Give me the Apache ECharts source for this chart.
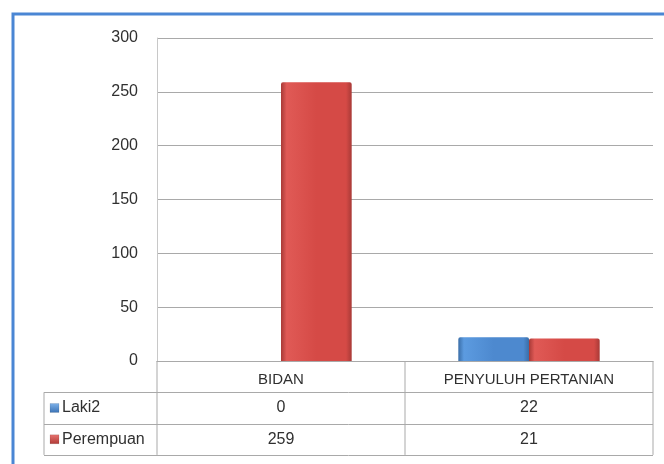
<!DOCTYPE html>
<html lang="en">
<head>
<meta charset="UTF-8">
<title>Chart</title>
<style>
    html, body { margin: 0; padding: 0; background: #fff; }
    #main { width: 664px; height: 464px; }
</style>
</head>
<body>
<div id="main"></div>
<script src="https://cdn.jsdelivr.net/npm/echarts@6/dist/echarts.min.js"></script>
<script>
var categories = ['BIDAN', 'PENYULUH PERTANIAN'];
var seriesNames = ['Laki2', 'Perempuan'];
var laki2 = [0, 22];
var perempuan = [259, 21];
var yMin = 0, yMax = 300, yStep = 50;

var FONT = '"Liberation Sans", Arial, sans-serif';
var TXT = '#303030';
var LINE = '#a9a9a9';

// layout of plot + data table
var gridLeft = 157, gridRight = 653, gridTop = 38, axisY = 361;
var tableLeft = 44, rowH = 31.3;

function barColor(dark, mid, light) {
    return new echarts.graphic.LinearGradient(0, 0, 1, 0, [
        { offset: 0, color: dark },
        { offset: 0.08, color: light },
        { offset: 0.5, color: mid },
        { offset: 0.92, color: mid },
        { offset: 1, color: dark }
    ]);
}
var colors = [
    barColor('#3a6ea8', '#4d89cf', '#5c9be0'),
    barColor('#a83a37', '#d54a46', '#e05a56')
];
var markColors = [
    new echarts.graphic.LinearGradient(0, 0, 0, 1, [{ offset: 0, color: '#7fb2ea' }, { offset: 1, color: '#3b73b5' }]),
    new echarts.graphic.LinearGradient(0, 0, 0, 1, [{ offset: 0, color: '#e87470' }, { offset: 1, color: '#b03a36' }])
];

var chart = echarts.init(document.getElementById('main'));

var option = {
    animation: false,
    backgroundColor: '#fff',
    grid: {
        left: gridLeft,
        right: 664 - gridRight,
        top: gridTop,
        bottom: 464 - axisY
    },
    xAxis: {
        type: 'category',
        data: categories,
        axisLine: { lineStyle: { color: LINE, width: 1 } },
        axisTick: { show: false },
        axisLabel: {
            margin: 11,
            color: TXT,
            fontFamily: FONT,
            fontSize: 15
        },
        splitLine: { show: false }
    },
    yAxis: {
        type: 'value',
        min: yMin,
        max: yMax,
        interval: yStep,
        axisLine: { show: true, lineStyle: { color: '#c8c8c8' } },
        axisTick: { show: false },
        axisLabel: {
            margin: 19,
            color: TXT,
            fontFamily: FONT,
            fontSize: 16
        },
        splitLine: { lineStyle: { color: LINE, width: 1 } }
    },
    series: [
        {
            name: seriesNames[0],
            type: 'bar',
            data: laki2,
            barGap: '0%',
            barCategoryGap: '43%',
            itemStyle: { color: colors[0], borderRadius: [2, 2, 0, 0] }
        },
        {
            name: seriesNames[1],
            type: 'bar',
            data: perempuan,
            itemStyle: { color: colors[1], borderRadius: [2, 2, 0, 0] }
        }
    ]
};
chart.setOption(option);

// data table under the plot, built from the same arrays
var rows = [laki2, perempuan];
var g = [];
var lineStyle = { stroke: LINE, lineWidth: 1 };
var tableBottom = axisY + rowH * 3;

// verticals
g.push({ type: 'line', shape: { x1: gridLeft, y1: axisY, x2: gridLeft, y2: tableBottom }, style: lineStyle });
g.push({ type: 'line', shape: { x1: gridRight, y1: axisY, x2: gridRight, y2: tableBottom }, style: lineStyle });
g.push({ type: 'line', shape: { x1: tableLeft, y1: axisY + rowH, x2: tableLeft, y2: tableBottom }, style: lineStyle });
var midX = (gridLeft + gridRight) / 2;
g.push({ type: 'line', shape: { x1: midX, y1: axisY, x2: midX, y2: tableBottom }, style: lineStyle });
// horizontals
for (var r = 1; r <= 3; r++) {
    var yy = Math.round(axisY + rowH * r) + 0.5;
    g.push({ type: 'line', shape: { x1: tableLeft, y1: yy, x2: gridRight, y2: yy }, style: lineStyle });
}

for (var j = 0; j < rows.length; j++) {
    var cy = axisY + rowH * (j + 1) + rowH / 2;
    g.push({
        type: 'rect',
        shape: { x: 50, y: cy - 4.5, width: 9, height: 9 },
        style: { fill: markColors[j], stroke: 'rgba(0,0,0,0.2)', lineWidth: 0.5 }
    });
    g.push({
        type: 'text',
        x: 62, y: cy,
        style: { text: seriesNames[j], fill: TXT, font: '16px ' + FONT, textVerticalAlign: 'middle', verticalAlign: 'middle' }
    });
    for (var i = 0; i < categories.length; i++) {
        var cx = chart.convertToPixel({ xAxisIndex: 0 }, categories[i]);
        g.push({
            type: 'text',
            x: cx, y: cy,
            style: { text: String(rows[j][i]), fill: TXT, font: '16px ' + FONT, align: 'center', textAlign: 'center', verticalAlign: 'middle', textVerticalAlign: 'middle' }
        });
    }
}

// outer frame
g.push({
    type: 'rect',
    shape: { x: 13, y: 14, width: 700, height: 500 },
    style: { fill: 'none', stroke: '#4a86d4', lineWidth: 3 }
});

chart.setOption({ graphic: g });
</script>
</body>
</html>
